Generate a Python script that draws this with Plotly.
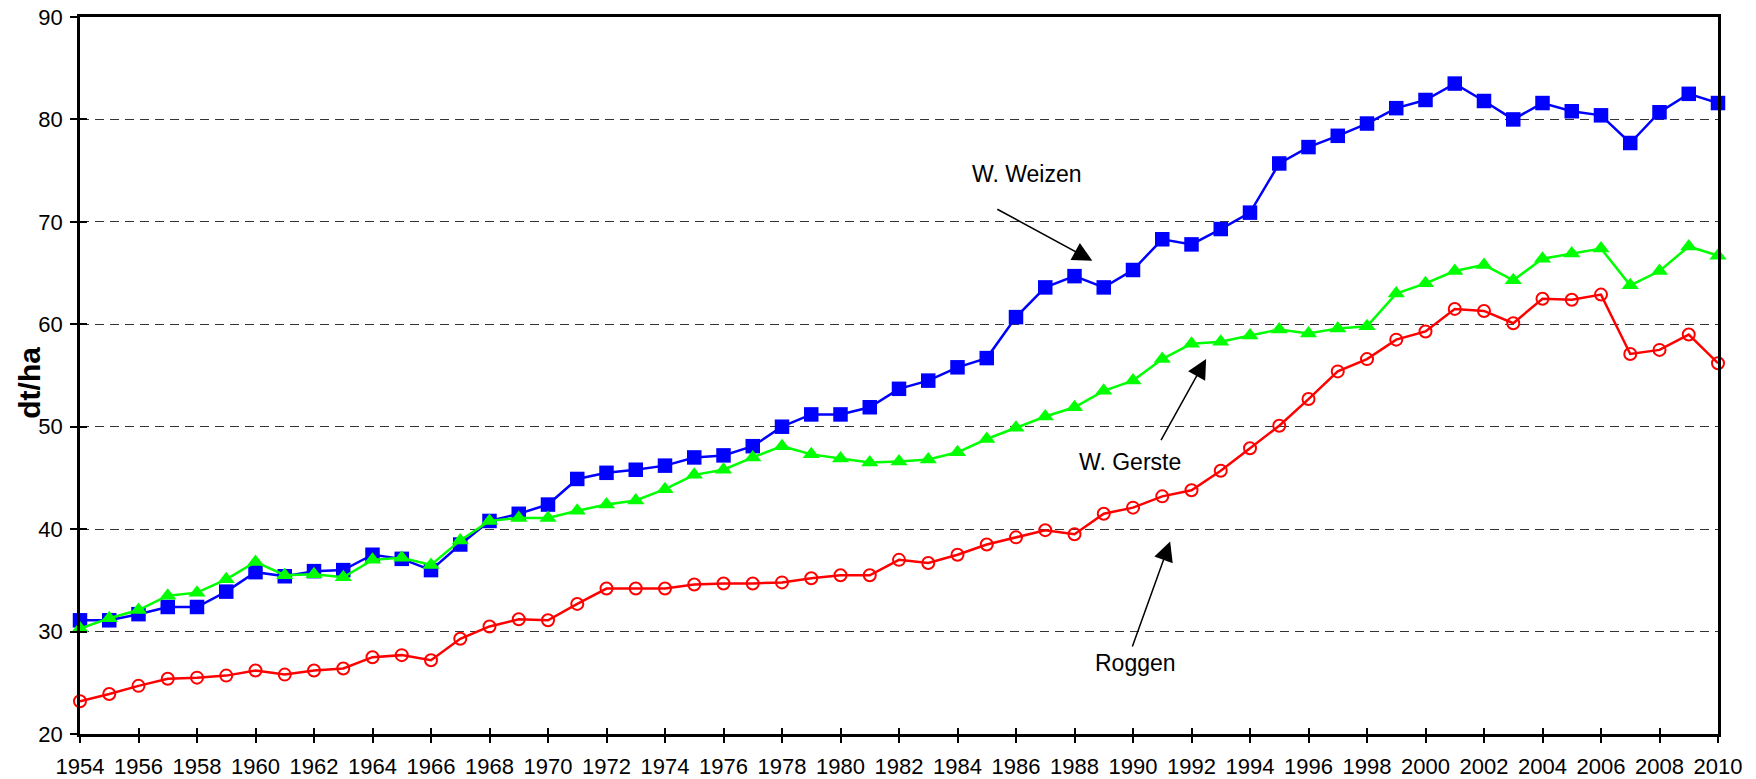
import plotly.graph_objects as go

years = list(range(1954, 2011))

weizen = [31.1, 31.1, 31.7, 32.4, 32.4, 33.9, 35.8, 35.4, 35.9, 36.0,
          37.5, 37.1, 36.0, 38.5, 40.8, 41.5, 42.4, 44.9, 45.5, 45.8,
          46.2, 47.0, 47.2, 48.1, 50.0, 51.2, 51.2, 51.9, 53.7, 54.5,
          55.8, 56.7, 60.7, 63.6, 64.7, 63.6, 65.3, 68.3, 67.8, 69.3,
          70.9, 75.7, 77.3, 78.4, 79.6, 81.1, 81.9, 83.5, 81.8, 80.0,
          81.6, 80.8, 80.4, 77.7, 80.7, 82.5, 81.6]

gerste = [30.3, 31.3, 32.1, 33.5, 33.8, 35.1, 36.8, 35.5, 35.6, 35.3,
          37.0, 37.2, 36.5, 38.9, 40.8, 41.1, 41.1, 41.8, 42.4, 42.8,
          43.9, 45.3, 45.8, 47.0, 48.1, 47.3, 46.9, 46.5, 46.6, 46.8,
          47.5, 48.8, 49.9, 51.0, 51.9, 53.5, 54.5, 56.6, 58.1, 58.3,
          58.9, 59.5, 59.1, 59.6, 59.8, 63.0, 64.0, 65.2, 65.8, 64.3,
          66.4, 66.9, 67.4, 63.8, 65.2, 67.6, 66.7]

roggen = [23.2, 23.9, 24.7, 25.4, 25.5, 25.7, 26.2, 25.8, 26.2, 26.4,
          27.5, 27.7, 27.2, 29.3, 30.5, 31.2, 31.1, 32.7, 34.2, 34.2,
          34.2, 34.6, 34.7, 34.7, 34.8, 35.2, 35.5, 35.5, 37.0, 36.7,
          37.5, 38.5, 39.2, 39.9, 39.5, 41.5, 42.1, 43.2, 43.8, 45.7,
          47.9, 50.1, 52.7, 55.4, 56.6, 58.5, 59.3, 61.5, 61.3, 60.1,
          62.5, 62.4, 62.9, 57.1, 57.5, 59.0, 56.2]

y_title = "dt/ha"
labels = ["W. Weizen", "W. Gerste", "Roggen"]

FONT = "Liberation Sans, Arial, sans-serif"

fig = go.Figure()

fig.add_trace(go.Scatter(
    x=years, y=roggen, mode="lines+markers", name="Roggen",
    line=dict(color="#FF0000", width=2.5),
    marker=dict(symbol="circle-open", size=12, color="#FF0000",
                line=dict(color="#FF0000", width=2)),
    cliponaxis=False, showlegend=False))

fig.add_trace(go.Scatter(
    x=years, y=weizen, mode="lines+markers", name="W. Weizen",
    line=dict(color="#0000FF", width=2.5),
    marker=dict(symbol="square", size=14.5, color="#0000FF"),
    cliponaxis=False, showlegend=False))

fig.add_trace(go.Scatter(
    x=years, y=gerste, mode="lines+markers", name="W. Gerste",
    line=dict(color="#00FF00", width=2.5),
    marker=dict(symbol="triangle-up", size=15, color="#00FF00"),
    cliponaxis=False, showlegend=False))

# invisible helper trace so overlay axes (inner tick halves) are drawn
fig.add_trace(go.Scatter(
    x=years, y=roggen, xaxis="x2", yaxis="y2", mode="lines",
    line=dict(width=0), opacity=0, hoverinfo="skip", showlegend=False))

common_font = dict(family=FONT, size=22, color="black")

fig.update_layout(
    width=1756, height=779, autosize=False,
    margin=dict(l=80, r=38, t=17, b=45, pad=0, autoexpand=False),
    paper_bgcolor="white", plot_bgcolor="white",
    font=dict(family=FONT, color="black"),
    xaxis=dict(
        range=[1954, 2010], tick0=1954, dtick=2, tickmode="linear",
        ticks="outside", ticklen=6, tickwidth=2, tickcolor="black",
        tickfont=common_font, automargin=False,
        showline=True, linecolor="black", linewidth=2.5, mirror=True,
        showgrid=False, zeroline=False, ticklabelstandoff=5),
    yaxis=dict(
        range=[20, 90], tick0=20, dtick=10, tickmode="linear",
        ticks="outside", ticklen=7, tickwidth=2, tickcolor="black",
        tickfont=common_font, automargin=False,
        showline=True, linecolor="black", linewidth=2.5, mirror=True,
        showgrid=True, gridcolor="#333333", gridwidth=1, griddash="9px,6px",
        zeroline=False, ticklabelstandoff=3),
    xaxis2=dict(
        overlaying="x", anchor="y2", range=[1954, 2010], tick0=1954,
        dtick=2, tickmode="linear", ticks="inside", ticklen=6,
        tickwidth=2, tickcolor="black", showticklabels=False,
        automargin=False,
        showline=False, showgrid=False, zeroline=False),
    yaxis2=dict(
        overlaying="y", anchor="x2", range=[20, 90], tick0=20, dtick=10,
        tickmode="linear", ticks="inside", ticklen=7, tickwidth=2,
        tickcolor="black", showticklabels=False, showline=False,
        automargin=False,
        showgrid=False, zeroline=False),
)

ann_font = dict(family=FONT, size=23, color="black")

annotations = [
    # y axis title
    dict(text="<b>" + y_title + "</b>", xref="paper", yref="paper",
         x=-0.0305, y=0.49, textangle=-90, showarrow=False,
         xanchor="center", yanchor="middle",
         font=dict(family=FONT, size=30, color="black")),
    # labels
    dict(text=labels[0], x=1986.36, y=74.72, xref="x", yref="y",
         showarrow=False, xanchor="center", yanchor="middle", font=ann_font),
    dict(text=labels[1], x=1989.90, y=46.59, xref="x", yref="y",
         showarrow=False, xanchor="center", yanchor="middle", font=ann_font),
    dict(text=labels[2], x=1990.09, y=26.95, xref="x", yref="y",
         showarrow=False, xanchor="center", yanchor="middle", font=ann_font),
]

arrows = [
    ((1988.61, 66.20), (1985.31, 71.31)),
    ((1992.50, 56.61), (1990.93, 48.54)),
    ((1991.27, 38.79), (1989.96, 28.39)),
]
for (tx, ty), (sx, sy) in arrows:
    annotations.append(dict(
        text="", x=tx, y=ty, ax=sx, ay=sy, xref="x", yref="y",
        axref="x", ayref="y", showarrow=True, arrowhead=2, arrowsize=2.6,
        arrowwidth=1.5, arrowcolor="black", standoff=0, startstandoff=0))

fig.update_layout(annotations=annotations)

fig.write_html(
    "out.html",
    config={"displayModeBar": False},
    post_script="document.body.style.margin='0';document.body.style.padding='0';",
)
